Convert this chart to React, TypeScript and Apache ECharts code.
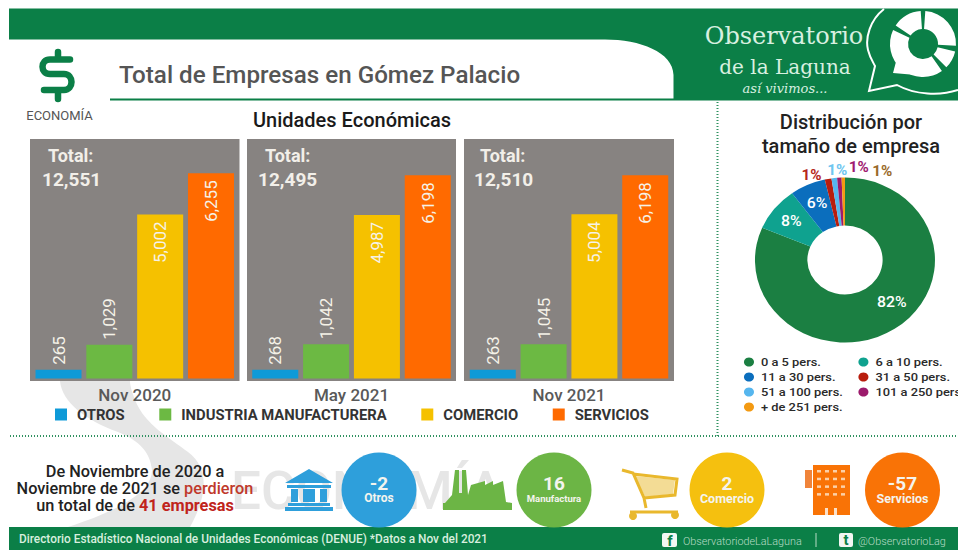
import React, { useEffect, useRef } from "react";
import * as echarts from "echarts";

const periods = ["Nov 2020", "May 2021", "Nov 2021"];
const sectorNames = ["OTROS", "INDUSTRIA MANUFACTURERA", "COMERCIO", "SERVICIOS"];
const otros = [265, 268, 263];
const manufactura = [1029, 1042, 1045];
const comercio = [5002, 4987, 5004];
const servicios = [6255, 6198, 6198];
const totals = ["12,551", "12,495", "12,510"];

const sizeNames = ["0 a 5 pers.", "6 a 10 pers.", "11 a 30 pers.", "31 a 50 pers.", "51 a 100 pers.", "101 a 250 pers.", "+ de 251 pers."];
const sizeValues = [81.4, 8.6, 6.4, 1.2, 1.0, 0.8, 0.6];
const sizeLabels = ["82%", "8%", "6%", "1%", "1%", "1%", "1%"];

const changeValues = ["-2", "16", "2", "-57"];
const changeNames = ["Otros", "Manufactura", "Comercio", "Servicios"];

const barColors = ["#0e9ad8", "#6cb943", "#f5c100", "#ff6a00"];
const circleColors = ["#2e9fdb", "#6cb545", "#f5c00f", "#f97306"];
const sizeColors = ["#1b7f42", "#0fa28f", "#0b6ebd", "#b81d0d", "#56b6ee", "#9c1b6c", "#f39a12"];
const sizeLabelColors = ["#ffffff", "#ffffff", "#ffffff", "#b5271b", "#6ec6f0", "#a01a70", "#9a6a2a"];
const GREEN = "#0b7f47";
const FONT = "Roboto, sans-serif";
const SERIF = "'DejaVu Serif', serif";

const panelLeft = [30, 247, 464];
const panelWidth = [209.5, 209, 210];
const totalX = [48, 265, 480];
const totalValueX = [42, 258, 474];
const circleX = [379, 554, 727, 902.5];
const circleLabelSize = [12, 9.5, 12.5, 12.5];
const pieNudges = [[9, -9], [-1, 0], [0, -1], [-1, -4], [17, -8], [32, -10], [50, -6]];

const shapes: Record<string, string> = {
  obHeader: "M9 8.5 H958 V100.5 H110 V98.5 H673.5 V75 C673 52 640 39.5 605 39.5 H9 Z",
  obDollar: "M70 59.5 H50 C40 59.5 40 74 50 74 H64 C74 74 74 90 64 90 H44 M58 52 V59 M58 90 V99",
  obBigS: "M60 381 C62 402 85 420 118 432 C140 441 150 452 152 470 C152 492 120 510 68 527 L190 527 C205 500 212 470 188 452 C170 438 145 425 135 400 C132 392 130 386 130 381 Z",
  obBubble: "M884 9 C870 20 865 38 868 50 C870 58 873 62 875 66 L869 91 L897 85 C915 95 940 96 958 90",
  obBank: "M285 483 L309 469 L333 483 Z M287 485 H331 V488 H287 Z M291 489 H298 V502 H291 Z M303 489 H315 V502 H303 Z M320 489 H327 V502 H320 Z M288 503 H330 V506 H288 Z M285 507 H333 V511 H285 Z",
  obFactory: "M445 503 L452 495 L455 470 H459 V493 H462 V470 H466 L468 495 L471 485 L485 481 V485 L493 481 V485 L503 481 L506 502 L512 503 V510 H443 V503 Z",
  obCartLine: "M622 470 L633 473 L644 498 L646 508 M633 474 L677 479 L675 495 L644 498 M630 512 H678",
  obCartBasket: "M635 476 L675 480 L673 494 L645 497 Z",
};
Object.keys(shapes).forEach((name) => {
  echarts.graphic.registerShape(name, echarts.graphic.extendPath(shapes[name], {}));
});

const deg = (d: number) => (d * Math.PI) / 180;

function txt(x: number, y: number, text: string, size: number, fill: string, weight: any = 400, align = "left", extra: any = {}) {
  return {
    type: "text",
    x,
    y,
    z: 1,
    style: { text, fontSize: size, fill, fontWeight: weight, fontFamily: FONT, align, verticalAlign: "middle", ...extra },
  };
}

function sector(start: number, end: number) {
  return {
    type: "sector",
    z: 1,
    shape: { cx: 923, cy: 44, r: 33, r0: 15, startAngle: deg(start), endAngle: deg(end), clockwise: true },
    style: { fill: "#ffffff" },
  };
}

function buildGraphics() {
  const els: any[] = [];
  els.push({ type: "obBigS", z: -1, style: { fill: "#e6e6e6" } });
  els.push(txt(231, 491, "ECONOMÍA", 53, "#e6e6e6", 500, "left"));
  els[els.length - 1].z = -1;
  els.push({ type: "obHeader", z: 0, style: { fill: GREEN } });
  els.push({ type: "rect", z: 0, shape: { x: 9, y: 527, width: 949, height: 23 }, style: { fill: GREEN } });

  // header logo and texts
  els.push({ type: "obBubble", z: 1, style: { fill: "none", stroke: "#ffffff", lineWidth: 2 } });
  els.push(sector(-146, -94), sector(-86, 3), sector(13, 45), sector(55, 205));
  els.push({ type: "polygon", z: 1, shape: { points: [[893, 73], [897, 58], [916, 75]] }, style: { fill: "#ffffff" } });
  els.push(txt(784, 36, "Observatorio", 24, "#d8f0e0", 400, "center", { fontFamily: SERIF }));
  els.push(txt(785, 67, "de la Laguna", 20, "#d8f0e0", 400, "center", { fontFamily: SERIF }));
  els.push(txt(785, 88, "así vivimos...", 13, "#d8f0e0", 400, "center", { fontFamily: SERIF, fontStyle: "italic" }));
  els.push(txt(119, 75, "Total de Empresas en Gómez Palacio", 24.2, "#555555", 500));

  els.push({ type: "obDollar", z: 1, style: { fill: "none", stroke: GREEN, lineWidth: 6.5, lineCap: "round" } });
  els.push(txt(59.5, 115, "ECONOMÍA", 13, "#555555", 400, "center"));
  els.push(txt(352, 120, "Unidades Económicas", 20, "#1a1a1a", 500, "center"));
  els.push(txt(851, 122, "Distribución por", 20, "#222222", 500, "center"));
  els.push(txt(851, 146, "tamaño de empresa", 20, "#222222", 500, "center"));

  // panels behind the bars
  panelLeft.forEach((x, i) => {
    els.push({ type: "rect", z: 0, shape: { x, y: 139, width: panelWidth[i], height: 242 }, style: { fill: "#878381" } });
    els.push(txt(totalX[i], 155, "Total:", 18, "#f2efe9", 700));
    els.push(txt(totalValueX[i], 179, totals[i], 19, "#f2efe9", 700));
  });

  // dotted separators
  els.push({ type: "line", z: 0, shape: { x1: 10, y1: 436, x2: 958, y2: 436 }, style: { stroke: "#2f9160", lineWidth: 2, lineDash: [1, 2] } });
  els.push({ type: "line", z: 0, shape: { x1: 717.5, y1: 102, x2: 717.5, y2: 436 }, style: { stroke: "#2f9160", lineWidth: 2, lineDash: [1, 2] } });

  // summary text
  const rich = {
    d: { fontSize: 16.3, fontWeight: 500, fill: "#222222", fontFamily: FONT },
    r: { fontSize: 16.3, fontWeight: 500, fill: "#c0392b", fontFamily: FONT },
    b: { fontSize: 16.3, fontWeight: 700, fill: "#c0241b", fontFamily: FONT },
  };
  const lines = ["{d|De Noviembre de 2020 a}", "{d|Noviembre de 2021 se }{r|perdieron}", "{d|un total de de }{b|41 empresas}"];
  lines.forEach((text, i) => {
    els.push({ type: "text", x: 135, y: 471 + i * 17, z: 1, style: { text, rich, align: "center", verticalAlign: "middle" } });
  });

  // icons
  els.push({ type: "obBank", z: 1, style: { fill: circleColors[0] } });
  els.push({ type: "obFactory", z: 1, style: { fill: circleColors[1] } });
  els.push({ type: "obCartBasket", z: 1, style: { fill: "#f3dc95" } });
  els.push({ type: "obCartLine", z: 1, style: { fill: "none", stroke: "#e9b82d", lineWidth: 3 } });
  els.push({ type: "circle", z: 1, shape: { cx: 633, cy: 516, r: 4 }, style: { fill: "#e9b82d" } });
  els.push({ type: "circle", z: 1, shape: { cx: 675, cy: 515, r: 4 }, style: { fill: "#e9b82d" } });

  els.push({ type: "rect", z: 1, shape: { x: 813, y: 465, width: 37, height: 50 }, style: { fill: "#f97306" } });
  els.push({ type: "rect", z: 1, shape: { x: 805, y: 470, width: 7, height: 18 }, style: { fill: "#f0843a" } });
  for (let r = 0; r < 4; r++) {
    for (let c = 0; c < 4; c++) {
      els.push({ type: "rect", z: 1, shape: { x: 817 + c * 8, y: 470 + r * 7.7, width: 4, height: 2.5 }, style: { fill: "#fbd0a8" } });
    }
  }
  els.push({ type: "rect", z: 1, shape: { x: 825, y: 508, width: 3, height: 7 }, style: { fill: "#fbe0c8" } });
  els.push({ type: "rect", z: 1, shape: { x: 834, y: 508, width: 3, height: 7 }, style: { fill: "#fbe0c8" } });

  // circles
  circleX.forEach((cx, i) => {
    els.push({ type: "circle", z: 1, shape: { cx, cy: 490, r: 37.5 }, style: { fill: circleColors[i] } });
    els.push(txt(cx, 483, changeValues[i], 19, "#f4f4ee", 700, "center"));
    els.push(txt(cx, 498, changeNames[i], circleLabelSize[i], "#f4f4ee", 700, "center"));
  });

  // footer
  els.push(txt(19, 539, "Directorio Estadístico Nacional de Unidades Económicas (DENUE) *Datos a Nov del 2021", 11.85, "#d8efdf", 500));
  els.push({ type: "rect", z: 1, shape: { x: 662, y: 533, width: 15, height: 14, r: 2 }, style: { fill: "#f2f7f3" } });
  els.push(txt(670, 541, "f", 15, GREEN, 700, "center"));
  els.push(txt(683, 541, "ObservatoriodeLaLaguna", 10.8, "#b8dcc6", 300));
  els.push({ type: "line", z: 1, shape: { x1: 816, y1: 533, x2: 816, y2: 547 }, style: { stroke: "#b8dcc6", lineWidth: 1 } });
  els.push({ type: "rect", z: 1, shape: { x: 839, y: 533, width: 14, height: 14, r: 2 }, style: { fill: "#f2f7f3" } });
  els.push(txt(846, 540, "t", 15, GREEN, 700, "center"));
  els.push(txt(858, 541, "@ObservatorioLag", 10.8, "#b8dcc6", 300));
  return els;
}

function mainOption(): any {
  const values = [otros, manufactura, comercio, servicios];
  const series: any[] = [];
  periods.forEach((_, i) => {
    sectorNames.forEach((name, j) => {
      const outside = j < 2;
      series.push({
        type: "bar",
        name,
        xAxisIndex: i,
        yAxisIndex: i,
        data: [values[j][i]],
        barWidth: 46,
        barGap: "10.5%",
        itemStyle: { color: barColors[j] },
        z: 3,
        label: {
          show: true,
          rotate: 90,
          position: outside ? "top" : "insideTop",
          align: outside ? "left" : "right",
          verticalAlign: "middle",
          distance: outside ? 5 : 7,
          fontSize: 17,
          fontFamily: FONT,
          color: "#f5f2e8",
          formatter: (p: any) => Number(p.value).toLocaleString("en-US"),
        },
      });
    });
  });
  return {
    animation: false,
    backgroundColor: "#ffffff",
    grid: panelLeft.map((left, i) => ({ left, width: panelWidth[i], top: 139, height: 239.5 })),
    xAxis: periods.map((p, i) => ({
      type: "category",
      gridIndex: i,
      data: [p],
      z: 5,
      axisLine: { show: false },
      axisTick: { show: false },
      axisLabel: { margin: 8, fontSize: 17, fontWeight: 500, color: "#595959", fontFamily: FONT },
    })),
    yAxis: periods.map((_, i) => ({ type: "value", gridIndex: i, min: 0, max: 7300, show: false })),
    legend: {
      data: sectorNames,
      left: 50,
      top: 402,
      itemWidth: 12,
      itemHeight: 12,
      itemGap: 34.6,
      icon: "rect",
      textStyle: { fontSize: 14.8, fontWeight: 700, color: "#333333", fontFamily: FONT, padding: [0, 0, 0, 5] },
    },
    graphic: { elements: buildGraphics() },
    series,
  };
}

function pieOption(): any {
  const legendOrder = [0, 2, 4, 6, 1, 3, 5].map((k) => sizeNames[k]);
  return {
    animation: false,
    legend: {
      data: legendOrder,
      orient: "vertical",
      left: 18.8,
      top: 191,
      height: 66,
      itemWidth: 9.2,
      itemHeight: 10,
      itemGap: 3,
      icon: "circle",
      textStyle: { fontSize: 11.8, fontWeight: 500, color: "#2a2a2a", fontFamily: FONT, width: 86.3, lineHeight: 12, padding: [0, 0, 0, 1.4] },
    },
    series: [
      {
        type: "pie",
        center: [116.4, 100],
        radius: [34.5, 82.5],
        startAngle: 90,
        clockwise: true,
        avoidLabelOverlap: false,
        labelLine: { show: false, length: 0, length2: 0 },
        data: sizeNames.map((name, i) => ({
          name,
          value: sizeValues[i],
          itemStyle: { color: sizeColors[i] },
          label: {
            position: i < 3 ? "inside" : "outside",
            color: sizeLabelColors[i],
            offset: pieNudges[i],
            fontSize: i < 3 ? 14.5 : 14,
            fontWeight: i < 3 ? 500 : 700,
          },
        })),
        label: {
          fontFamily: FONT,
          formatter: (p: any) => sizeLabels[p.dataIndex],
        },
      },
    ],
  };
}

export default function App() {
  const mainRef = useRef<HTMLDivElement>(null);
  const pieRef = useRef<HTMLDivElement>(null);
  useEffect(() => {
    const main = echarts.init(mainRef.current!, undefined, { renderer: "svg" });
    main.setOption(mainOption());
    const pie = echarts.init(pieRef.current!, undefined, { renderer: "svg" });
    pie.setOption(pieOption());
    return () => {
      main.dispose();
      pie.dispose();
    };
  }, []);
  return (
    <div style={{ position: "fixed", left: 0, top: 0, width: 958, height: 550, overflow: "hidden", background: "#fff" }}>
      <div ref={mainRef} style={{ position: "absolute", left: 0, top: 0, width: 958, height: 550 }} />
      <div
        ref={pieRef}
        style={{ position: "absolute", left: 718, top: 160, width: 220, height: 270, transform: "scaleX(1.0909)", transformOrigin: "0 0" }}
      />
    </div>
  );
}
